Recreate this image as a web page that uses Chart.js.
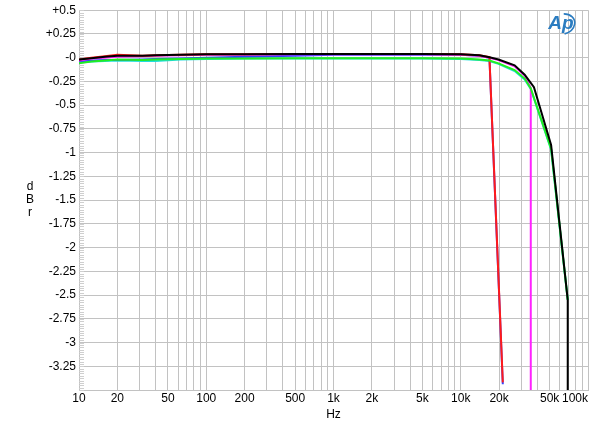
<!DOCTYPE html>
<html>
<head>
<meta charset="utf-8">
<script src="https://cdn.jsdelivr.net/npm/chart.js@4"></script>
<style>
  html, body { margin: 0; padding: 0; background: #fff; }
  #wrap { width: 600px; height: 430px; }
</style>
</head>
<body>
<div id="wrap"><canvas id="c" width="600" height="430"></canvas></div>
<script>
// sweep frequencies (Hz), shared by all traces
const freqs = [10, 12.5, 16, 20, 31.5, 40, 63, 100, 200, 500, 1000, 2000, 5000, 10000, 14000, 16800, 19800, 21400, 26500, 31800, 35500, 35500, 37600, 51300, 69300, 69300];

// response in dBr, null = no point at that frequency
const black   = [-0.02, -0.005, 0.01, 0.02, 0.02, 0.025, 0.03, 0.035, 0.035, 0.04, 0.04, 0.04, 0.04, 0.035, 0.025, 0.005, -0.02, null, -0.08, -0.18, null, null, -0.31, -0.92, -2.55, -3.6];
const green   = [-0.06, -0.04, -0.03, -0.02, -0.025, -0.02, -0.015, -0.01, -0.01, -0.005, -0.005, -0.005, -0.005, -0.01, -0.02, -0.03, -0.06, null, -0.13, -0.22, -0.325, null, null, -0.96, -2.55, null];
const red     = [-0.02, 0.0, 0.015, 0.03, 0.02, 0.025, 0.03, 0.035, 0.035, 0.04, 0.04, 0.04, 0.04, 0.035, 0.025, 0.005, null, -3.42, null, null, null, null, null, null, null, null];
const magenta = [-0.03, -0.01, 0.0, 0.01, 0.015, 0.02, 0.025, 0.03, 0.03, 0.035, 0.035, 0.035, 0.035, 0.03, 0.02, 0.0, -0.025, null, -0.09, -0.19, -0.32, -3.6, null, null, null, null];
const blue    = [-0.04, -0.03, -0.025, -0.025, -0.02, -0.015, -0.01, 0.0, 0.01, 0.02, 0.03, 0.03, 0.03, 0.03, 0.02, 0.0, null, -3.44, null, null, null, null, null, null, null, null];
const cyan    = [-0.05, -0.04, -0.035, -0.03, -0.035, -0.035, -0.02, -0.015, -0.01, -0.01, -0.01, -0.01, -0.01, -0.015, -0.025, -0.035, -0.065, null, -0.14, -0.23, -0.33, null, null, -0.97, -2.55, null];

// axis ticks
const gridFreqs = [10,20,30,40,50,60,70,80,90,100,200,300,400,500,600,700,800,900,1000,2000,3000,4000,5000,6000,7000,8000,9000,10000,20000,30000,40000,50000,60000,70000,80000,90000,100000];
const xLabels = { 10: '10', 20: '20', 50: '50', 100: '100', 200: '200', 500: '500', 1000: '1k', 2000: '2k', 5000: '5k', 10000: '10k', 20000: '20k', 50000: '50k', 100000: '100k' };
const yMin = -3.5, yMax = 0.5, yStep = 0.25;

const FONT = '"Liberation Sans", Arial, sans-serif';
const GRID = '#c2c2c2';

function pts(vals) {
  return freqs.map((f, i) => ({ x: f, y: vals[i] }));
}
function ds(vals, color) {
  return { data: pts(vals), borderColor: color, borderWidth: 2, pointRadius: 0, tension: 0, spanGaps: true, fill: false };
}

// extra drawing: y minor ticks, x labels, titles, logo
const decor = {
  id: 'decor',
  beforeDatasetsDraw(chart) {
    const { ctx, chartArea: a, scales: { y } } = chart;
    ctx.save();
    ctx.strokeStyle = '#cfcfcf';
    ctx.lineWidth = 1;
    for (let v = yMin; v <= yMax + 1e-9; v += 0.025) {
      const py = Math.round(y.getPixelForValue(v)) + 0.5;
      ctx.beginPath();
      ctx.moveTo(a.left, py);
      ctx.lineTo(a.left + 5, py);
      ctx.stroke();
    }
    ctx.restore();
  },
  afterDraw(chart) {
    const { ctx, chartArea: a, scales: { x } } = chart;
    ctx.save();
    ctx.fillStyle = '#000';
    ctx.font = '12px ' + FONT;
    ctx.textBaseline = 'middle';
    Object.keys(xLabels).forEach(k => {
      const px = x.getPixelForValue(Number(k));
      ctx.textAlign = Number(k) === 100000 ? 'right' : 'center';
      ctx.fillText(xLabels[k], px, a.bottom + 9);
    });
    ctx.textAlign = 'center';
    ctx.fillText('Hz', (a.left + a.right) / 2, a.bottom + 25);
    ['d', 'B', 'r'].forEach((t, i) => ctx.fillText(t, 30, 187 + i * 13));

    // Ap logo
    ctx.fillStyle = '#2b7cc0';
    ctx.strokeStyle = '#2b7cc0';
    ctx.font = 'italic bold 19px ' + FONT;
    ctx.fillText('Ap', a.right - 27, a.top + 14);
    ctx.lineWidth = 1.6;
    ctx.beginPath();
    ctx.ellipse(a.right - 26, a.top + 14, 13, 10, -0.3, -1.2, 1.6);
    ctx.stroke();
    ctx.restore();
  }
};

new Chart(document.getElementById('c'), {
  type: 'line',
  data: {
    datasets: [
      ds(black, '#000000'),
      ds(green, '#22ee22'),
      ds(red, '#ff1a1a'),
      ds(magenta, '#ff22ff'),
      ds(blue, '#3344ff'),
      ds(cyan, '#22dddd')
    ]
  },
  options: {
    responsive: false,
    animation: false,
    layout: { padding: { top: 10, right: 12, left: 0, bottom: 0 } },
    plugins: { legend: { display: false }, tooltip: { enabled: false } },
    scales: {
      x: {
        type: 'logarithmic',
        min: 10,
        max: 100000,
        afterBuildTicks(scale) { scale.ticks = gridFreqs.map(v => ({ value: v })); },
        afterFit(scale) { scale.height = 40; },
        ticks: { display: false, autoSkip: false },
        grid: { color: GRID, lineWidth: 1, drawTicks: false },
        border: { color: GRID }
      },
      y: {
        min: yMin,
        max: yMax,
        afterFit(scale) { scale.width = 79; },
        ticks: {
          stepSize: yStep,
          padding: 3,
          color: '#000',
          font: { family: FONT, size: 12 },
          callback(v) {
            if (v <= yMin + 1e-6) return '';
            if (Math.abs(v) < 1e-9) return '-0';
            const s = String(Math.round(v * 100) / 100);
            return v > 0 ? '+' + s : s;
          }
        },
        grid: { color: GRID, lineWidth: 1, drawTicks: false },
        border: { color: GRID }
      }
    }
  },
  plugins: [decor]
});
</script>
</body>
</html>
